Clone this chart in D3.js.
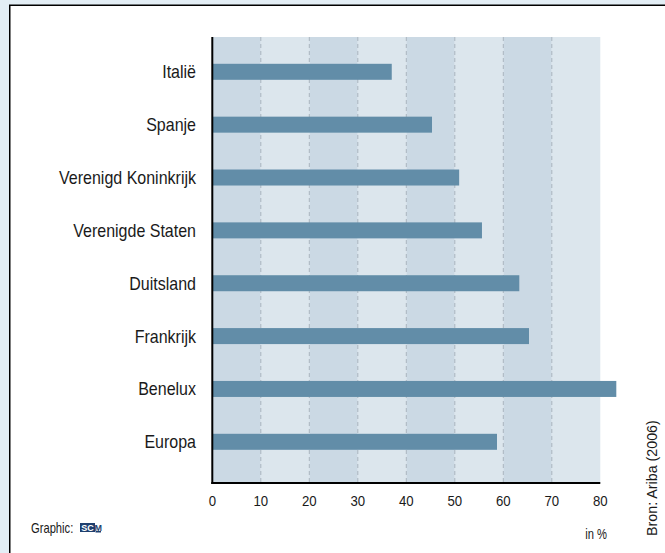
<!DOCTYPE html>
<html>
  <head>
    <meta charset="utf-8">
    <script src="https://d3js.org/d3.v7.min.js"></script>
    <style>
      body { margin: 0; background: #e3eef5; }
      svg { display: block; }
      text { font-family: "Liberation Sans", Arial, sans-serif; fill: #1a1a1a; }
    </style>
  </head>
  <body>
    <div id="chart"></div>
    <script>
      // data
      var countries = ["Italië", "Spanje", "Verenigd Koninkrijk", "Verenigde Staten", "Duitsland", "Frankrijk", "Benelux", "Europa"];
      var values = [37, 45.3, 50.9, 55.6, 63.3, 65.3, 83.3, 58.7];
      var ticks = [0, 10, 20, 30, 40, 50, 60, 70, 80];

      var width = 665, height = 553;
      var plotTop = 37, plotBottom = 483;

      var svg = d3.select("#chart").append("svg")
        .attr("width", width)
        .attr("height", height);

      // white panel with black frame
      svg.append("rect")
        .attr("x", 9.75).attr("y", 5.25)
        .attr("width", 700).attr("height", 600)
        .style("fill", "#fff")
        .style("stroke", "#000")
        .style("stroke-width", 1.5);

      var x = d3.scaleLinear().domain([0, 80]).range([212.3, 600.3]);
      var y = d3.scalePoint().domain(countries).range([71.8, 441.8]);

      // alternating column bands
      svg.selectAll("rect.band")
        .data(ticks.slice(0, -1))
        .enter()
        .append("rect")
        .attr("class", "band")
        .attr("x", function(d) { return x(d); })
        .attr("y", plotTop)
        .attr("width", function(d) { return x(d + 10) - x(d); })
        .attr("height", plotBottom - plotTop)
        .style("fill", function(d, i) { return i % 2 == 0 ? "#cbd9e4" : "#dce6ed"; });

      // dashed grid lines
      svg.selectAll("line.grid")
        .data(ticks.slice(1, -1))
        .enter()
        .append("line")
        .attr("class", "grid")
        .attr("x1", function(d) { return x(d); })
        .attr("x2", function(d) { return x(d); })
        .attr("y1", plotTop)
        .attr("y2", plotBottom)
        .style("stroke", "#a9b4be")
        .style("stroke-width", 1)
        .style("stroke-dasharray", "4,3");

      // bars
      svg.selectAll("rect.bar")
        .data(values)
        .enter()
        .append("rect")
        .attr("class", "bar")
        .attr("x", x(0))
        .attr("y", function(d, i) { return y(countries[i]) - 8; })
        .attr("width", function(d) { return x(d) - x(0); })
        .attr("height", 16)
        .style("fill", "#628da8");

      // axes lines
      svg.append("line")
        .attr("x1", x(0)).attr("x2", x(0))
        .attr("y1", plotTop).attr("y2", plotBottom + 1)
        .style("stroke", "#000").style("stroke-width", 2);
      svg.append("line")
        .attr("x1", x(0) - 1).attr("x2", x(80))
        .attr("y1", plotBottom).attr("y2", plotBottom)
        .style("stroke", "#000").style("stroke-width", 2);

      // the original uses a condensed face, so squeeze Liberation Sans sideways
      function narrowText(px, py, str, size, squeeze, anchor, rot) {
        return svg.append("text")
          .attr("transform", "translate(" + px + "," + py + ")" + (rot ? " rotate(" + rot + ")" : "") + " scale(" + squeeze + ",1)")
          .attr("text-anchor", anchor || "start")
          .style("font-size", size + "px")
          .text(str);
      }

      // category labels
      countries.forEach(function(c) {
        narrowText(196, y(c) + 6.5, c, 18, 0.89, "end");
      });

      // tick labels
      ticks.forEach(function(t) {
        narrowText(x(t), 506, t, 15, 0.88, "middle");
      });

      narrowText(607, 539, "in %", 14, 0.8, "end");
      narrowText(657, 536, "Bron: Ariba (2006)", 14, 1.02, "start", -90);

      // footer credit with small logo
      narrowText(31, 533, "Graphic:", 14, 0.8, "start");
      svg.append("rect")
        .attr("x", 80).attr("y", 523).attr("width", 15).attr("height", 9)
        .style("fill", "#1e3f6e");
      svg.append("rect")
        .attr("x", 95.5).attr("y", 531).attr("width", 5.5).attr("height", 1.5)
        .style("fill", "#1e3f6e");
      svg.append("text")
        .attr("x", 87.5).attr("y", 531)
        .attr("text-anchor", "middle")
        .style("font-size", "9px").style("font-weight", "bold").style("fill", "#fff")
        .text("SC");
      svg.append("text")
        .attr("x", 98.2).attr("y", 530.5)
        .attr("text-anchor", "middle")
        .style("font-size", "9px").style("font-weight", "bold").style("fill", "#1e3f6e")
        .text("M");
    </script>
  </body>
</html>
